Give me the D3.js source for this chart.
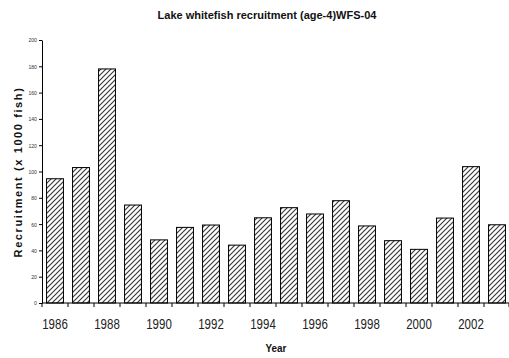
<!DOCTYPE html>
<html>
<head>
<meta charset="utf-8">
<script src="https://cdn.jsdelivr.net/npm/d3@7"></script>
<style>
  html, body { margin: 0; padding: 0; background: #fff; }
  svg { display: block; }
</style>
</head>
<body>
<script>
const years = [1986,1987,1988,1989,1990,1991,1992,1993,1994,1995,1996,1997,1998,1999,2000,2001,2002,2003];
const recruitment = [94.5,103,178,74.5,48,57.5,59.3,44,64.8,72.5,67.7,77.8,58.6,47.4,40.8,64.6,103.7,59.5];
const yTicks = [0,20,40,60,80,100,120,140,160,180,200];
const xTickLabels = [1986,1988,1990,1992,1994,1996,1998,2000,2002];

const W = 509, H = 358;
const m = {left: 42, right: 0, top: 40, bottom: 55};
const svg = d3.select("body").append("svg").attr("width", W).attr("height", H);

const defs = svg.append("defs");
const pat = defs.append("pattern").attr("id","hatch").attr("patternUnits","userSpaceOnUse")
  .attr("width",5).attr("height",5);
pat.append("rect").attr("width",5).attr("height",5).attr("fill","#fff");
pat.append("path").attr("d","M-1,1 L1,-1 M0,5 L5,0 M4,6 L6,4")
  .attr("stroke","#3a3a3a").attr("stroke-width",1.2);

const x = d3.scaleBand().domain(years).range([m.left, 510]).paddingInner(0.35).paddingOuter(0.175);
const y = d3.scaleLinear().domain([0,200]).range([303, 40]);

svg.append("text").attr("x", 267).attr("y", 19).attr("text-anchor","middle")
  .attr("font-family","Liberation Sans, Arial, sans-serif").attr("font-weight","bold")
  .attr("font-size", 11).attr("fill","#111").text("Lake whitefish recruitment (age-4)WFS-04");

// bars
svg.append("g").selectAll("rect").data(years).join("rect")
  .attr("x", d => x(d)).attr("width", x.bandwidth())
  .attr("y", (d,i) => y(recruitment[i])).attr("height", (d,i) => y(0) - y(recruitment[i]))
  .attr("fill","url(#hatch)").attr("stroke","#000").attr("stroke-width",1);

// y axis
const yAxis = svg.append("g").attr("transform", `translate(${m.left},0)`)
  .call(d3.axisLeft(y).tickValues(yTicks).tickSize(3).tickSizeOuter(0));
yAxis.select(".domain").attr("stroke","#000");
yAxis.selectAll(".tick line").attr("stroke","#000");
yAxis.selectAll(".tick text").attr("font-family","Liberation Sans, Arial, sans-serif")
  .attr("font-size", 6).attr("fill","#333").attr("x", -6)
  .attr("transform","scale(0.85,1)");

// x axis
const gap = (x.step() - x.bandwidth())/2;
const boundaries = years.map(d => x(d) - gap).concat([x(years[years.length-1]) + x.bandwidth() + gap - 1]);
const xg = svg.append("g");
xg.append("line").attr("x1", m.left).attr("x2", 509).attr("y1", y(0)).attr("y2", y(0)).attr("stroke","#000");
xg.selectAll("line.tk").data(boundaries).join("line").attr("class","tk")
  .attr("x1", d => d).attr("x2", d => d).attr("y1", y(0)).attr("y2", y(0)+4).attr("stroke","#000");
xg.selectAll("text").data(xTickLabels).join("text")
  .attr("transform", d => `translate(${x(d) + x.bandwidth()/2},329) scale(0.82,1)`)
  .attr("text-anchor","middle")
  .attr("font-family","Liberation Sans, Arial, sans-serif")
  .attr("font-size", 14).attr("fill","#222").text(d => d);

svg.append("text").attr("transform","translate(276,352) scale(0.9,1)").attr("text-anchor","middle")
  .attr("font-family","Liberation Sans, Arial, sans-serif").attr("font-weight","bold")
  .attr("font-size", 11).attr("fill","#111").text("Year");

svg.append("text").attr("transform","translate(22,172) rotate(-90)").attr("text-anchor","middle")
  .attr("font-family","Liberation Sans, Arial, sans-serif").attr("font-weight","bold")
  .attr("font-size", 11).attr("letter-spacing", 1.6).attr("fill","#111").text("Recruitment (x 1000 fish)");
</script>
</body>
</html>
